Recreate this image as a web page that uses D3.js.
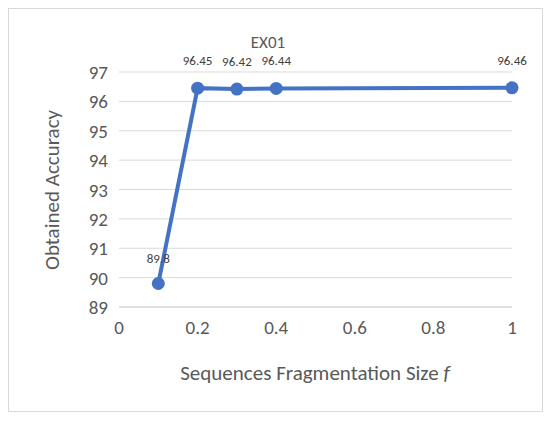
<!DOCTYPE html><html><head><meta charset="utf-8"><script src="https://cdn.jsdelivr.net/npm/d3@7"></script>
<style>body{margin:0;background:#fff}</style></head><body><svg id="c" width="550" height="422"></svg>
<script>
const xVals=[0.1,0.2,0.3,0.4,1];
const yVals=[89.8,96.45,96.42,96.44,96.46];
const labels=["89.8","96.45","96.42","96.44","96.46"];
const xTicks=[0,0.2,0.4,0.6,0.8,1];
const yTicks=[89,90,91,92,93,94,95,96,97];
const svg=d3.select("#c"),font="Calibri, Carlito, 'Liberation Sans', sans-serif";
svg.append("rect").attr("x",8.5).attr("y",8.5).attr("width",534).attr("height",403).attr("fill","#fff").attr("stroke","#d9d9d9");
const x=d3.scaleLinear().domain([0,1]).range([119,512]);
const y=d3.scaleLinear().domain([89,97]).range([307,72]);
svg.append("g").selectAll("line").data(yTicks).join("line").attr("x1",119).attr("x2",512)
 .attr("y1",d=>y(d)).attr("y2",d=>y(d)).attr("stroke",d=>d===89?"#bfbfbf":"#d9d9d9");
svg.append("g").selectAll("text").data(yTicks).join("text").attr("x",108).attr("y",d=>y(d)+7)
 .attr("text-anchor","end").attr("font-family",font).attr("font-size",19).attr("fill","#595959").text(d=>d);
svg.append("g").selectAll("text").data(xTicks).join("text").attr("x",d=>x(d)).attr("y",334)
 .attr("text-anchor","middle").attr("font-family",font).attr("font-size",19).attr("fill","#595959").text(d=>d);
svg.append("text").attr("x",268).attr("y",48).attr("text-anchor","middle").attr("font-family",font).attr("font-size",17).attr("fill","#595959").text("EX01");
const xt=svg.append("text").attr("x",315).attr("y",380).attr("text-anchor","middle").attr("font-family",font).attr("font-size",21).attr("fill","#595959");
xt.append("tspan").text("Sequences Fragmentation Size ");xt.append("tspan").attr("font-style","italic").text("f");
svg.append("text").attr("transform","translate(59,190) rotate(-90)").attr("text-anchor","middle").attr("font-family",font).attr("font-size",21).attr("fill","#595959").text("Obtained Accuracy");
const pts=xVals.map((v,i)=>[v,yVals[i]]);
svg.append("path").datum(pts).attr("d",d3.line().x(d=>x(d[0])).y(d=>y(d[1]))).attr("fill","none").attr("stroke","#4472c4").attr("stroke-width",4);
svg.append("g").selectAll("circle").data(pts).join("circle").attr("cx",d=>x(d[0])).attr("cy",d=>y(d[1])).attr("r",6.5).attr("fill","#4472c4");
svg.append("g").selectAll("text").data(pts).join("text").attr("x",d=>x(d[0])).attr("y",(d,i)=>y(d[1])-(i===0?21:23))
 .attr("text-anchor","middle").attr("font-family",font).attr("font-size",13).attr("fill","#404040").text((d,i)=>labels[i]);
</script></body></html>
